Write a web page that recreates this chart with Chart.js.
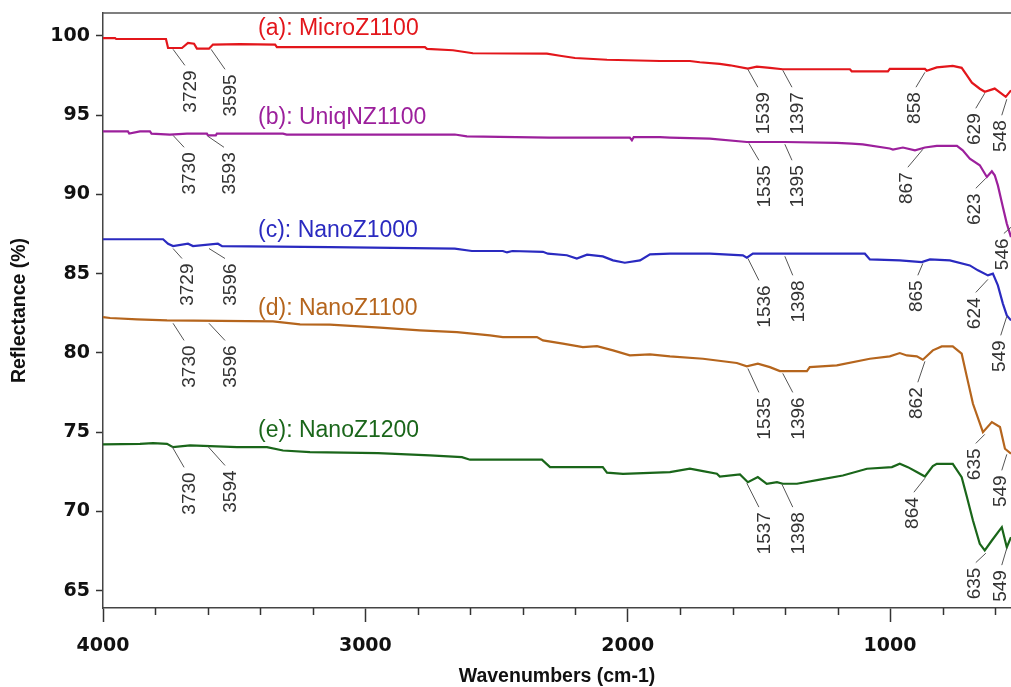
<!DOCTYPE html>
<html>
<head>
<meta charset="utf-8">
<script src="https://cdn.jsdelivr.net/npm/chart.js@4.4.1/dist/chart.umd.min.js"></script>
<style>
  html, body { margin: 0; padding: 0; background: #fff; }
  #wrap { width: 1011px; height: 687px; position: relative; }
</style>
</head>
<body>
<div id="wrap"><canvas id="ftir"></canvas></div>
<script>
// spectra: wavenumber (cm-1) and reflectance (%)
const microZ1100Wn = [4000,3954,3950,3760,3752,3699,3676,3653,3642,3596,3581,3478,3344,3337,2773,2765,2666,2590,2308,2258,2201,2079,1877,1763,1725,1649,1610,1542,1508,1458,1409,1153,1146,1008,1001,867,860,822,761,727,707,688,658,639,601,559,539];
const microZ1100R = [99.87,99.87,99.81,99.81,99.24,99.24,99.56,99.51,99.20,99.20,99.46,99.49,99.46,99.30,99.30,99.19,99.10,98.91,98.89,98.75,98.61,98.50,98.42,98.42,98.34,98.24,98.15,97.94,98.06,97.99,97.90,97.90,97.77,97.77,97.92,97.92,97.80,98.02,98.11,97.99,97.52,97.05,96.67,96.48,96.68,96.16,96.57];

const uniqNZ1100Wn = [4000,3905,3900,3859,3821,3815,3745,3680,3604,3600,3570,3566,3314,3300,2659,2613,2300,1992,1984,1977,1877,1839,1687,1546,1401,1203,1146,1104,1001,989,951,905,867,822,745,723,696,658,631,612,601,589,570,555,539];
const uniqNZ1100R = [93.98,93.98,93.84,93.98,93.98,93.84,93.78,93.84,93.84,93.73,93.73,93.84,93.84,93.78,93.78,93.67,93.59,93.59,93.42,93.62,93.62,93.59,93.52,93.31,93.31,93.25,93.21,93.16,92.90,92.83,92.96,92.78,92.96,93.06,93.06,92.78,92.26,91.84,91.10,91.46,91.21,90.57,89.20,88.16,87.31];

const nanoZ1000Wn = [4000,3771,3752,3733,3676,3657,3562,3546,3135,2659,2594,2476,2460,2440,2323,2304,2232,2194,2155,2095,2056,2011,1953,1915,1839,1687,1561,1546,1523,1096,1077,963,879,848,772,696,665,627,608,589,570,555,539];
const nanoZ1000R = [87.17,87.17,86.89,86.74,86.89,86.74,86.89,86.74,86.68,86.58,86.43,86.43,86.34,86.43,86.38,86.26,86.16,85.95,86.20,86.09,85.84,85.69,85.84,86.22,86.26,86.26,86.16,86.01,86.26,86.26,85.90,85.84,85.73,85.90,85.84,85.52,85.21,84.89,85.00,84.26,83.11,82.37,82.05];

const nanoZ1100Wn = [4000,3973,3870,3756,3352,3249,3135,2944,2792,2651,2525,2476,2346,2323,2247,2171,2117,2056,1992,1915,1839,1713,1584,1546,1504,1458,1420,1317,1306,1203,1077,1001,963,936,898,875,837,803,761,727,707,684,646,612,581,562,539];
const nanoZ1100R = [82.26,82.20,82.11,82.05,81.99,81.80,81.78,81.59,81.42,81.31,81.10,81.00,81.00,80.79,80.58,80.37,80.43,80.16,79.84,79.90,79.78,79.63,79.36,79.15,79.32,79.10,78.85,78.85,79.10,79.21,79.63,79.78,79.99,79.84,79.78,79.57,80.16,80.41,80.41,79.95,78.47,76.79,75.00,75.63,75.32,73.95,73.64];

const nanoZ1200Wn = [4000,3859,3809,3756,3733,3668,3566,3489,3375,3314,3211,2952,2754,2632,2601,2327,2296,2095,2079,2018,1839,1763,1713,1660,1649,1572,1542,1504,1470,1431,1409,1355,1268,1180,1088,993,963,932,898,867,837,822,761,727,707,684,658,639,612,574,555,539];
const nanoZ1200R = [74.22,74.26,74.30,74.26,74.05,74.16,74.10,74.05,74.05,73.84,73.74,73.67,73.53,73.42,73.26,73.26,72.79,72.79,72.44,72.37,72.48,72.69,72.54,72.37,72.20,72.33,71.84,72.16,71.74,71.84,71.74,71.74,72.00,72.26,72.69,72.79,73.00,72.79,72.48,72.20,72.85,73.00,73.00,72.16,70.90,69.42,67.95,67.53,68.16,69.00,67.74,68.37];

const seriesNames = ['(a): MicroZ1100', '(b): UniqNZ1100', '(c): NanoZ1000', '(d): NanoZ1100', '(e): NanoZ1200'];
const seriesColors = ['#e3161b', '#9c209c', '#2a2ac0', '#b5651d', '#1a661a'];

// where each sample name sits (wavenumber of its left end, reflectance of its middle)
const nameWn = 3409;
const nameR = [100.49, 94.87, 87.73, 82.81, 75.11];

// peak tags: [text, wn on curve, R on curve, wn of tag, R of tag top]
const peaksA = [['3729',3733,99.22,3665,97.83],['3595',3588,99.22,3512,97.58],['1539',1542,97.96,1481,96.45],['1397',1409,97.90,1351,96.45],['858',867,97.77,905,96.45],['629',639,96.45,677,95.12],['548',555,96.07,578,94.68]];
const peaksB = [['3730',3733,93.79,3668,92.66],['3593',3600,93.73,3516,92.66],['1535',1538,93.29,1477,91.84],['1395',1401,93.23,1351,91.84],['867',875,92.91,936,91.40],['623',635,91.08,677,90.07],['546',539,87.99,570,87.22]];
const peaksC = [['3729',3733,86.65,3676,85.64],['3596',3596,86.65,3512,85.64],['1536',1542,86.03,1477,84.26],['1398',1401,86.16,1348,84.58],['865',875,85.71,898,84.58],['624',627,84.70,677,83.50],['549',555,82.37,582,80.79]];
const peaksD = [['3730',3733,81.93,3668,80.47],['3596',3596,81.93,3512,80.47],['1535',1542,79.08,1477,77.19],['1396',1409,78.77,1348,77.19],['862',867,79.53,898,77.83],['635',639,74.92,677,73.97],['549',555,73.66,578,72.27]];
const peaksE = [['3730',3737,74.16,3668,72.46],['3594',3600,74.16,3512,72.58],['1537',1546,71.84,1477,69.95],['1398',1412,71.77,1348,69.95],['864',867,72.15,913,70.89],['635',635,67.42,677,66.45],['549',555,67.74,578,66.29]];

const xTicks = [4000,3800,3600,3400,3200,3000,2800,2600,2400,2200,2000,1800,1600,1400,1200,1000,800,600];
const yTicks = [65,70,75,80,85,90,95,100];

const pairs = (wn, r) => wn.map((v, i) => ({ x: v, y: r[i] }));
const spectra = [
  pairs(microZ1100Wn, microZ1100R),
  pairs(uniqNZ1100Wn, uniqNZ1100R),
  pairs(nanoZ1000Wn, nanoZ1000R),
  pairs(nanoZ1100Wn, nanoZ1100R),
  pairs(nanoZ1200Wn, nanoZ1200R)
];
const allPeaks = [peaksA, peaksB, peaksC, peaksD, peaksE];

const annotate = {
  id: 'annotate',
  afterDraw(chart) {
    const { ctx, chartArea: a, scales: { x, y } } = chart;
    ctx.save();

    // frame line along the top
    ctx.strokeStyle = '#555';
    ctx.lineWidth = 1.5;
    ctx.beginPath();
    ctx.moveTo(a.left, a.top);
    ctx.lineTo(a.right, a.top);
    ctx.stroke();

    // short minor ticks on the wavenumber axis
    ctx.strokeStyle = '#333';
    xTicks.forEach(v => {
      if (v % 1000 === 0) return;
      const px = Math.round(x.getPixelForValue(v)) + 0.5;
      ctx.beginPath();
      ctx.moveTo(px, a.bottom);
      ctx.lineTo(px, a.bottom + 7);
      ctx.stroke();
    });

    // sample names
    ctx.font = '23px "Liberation Sans", Arial, sans-serif';
    ctx.textAlign = 'left';
    ctx.textBaseline = 'middle';
    seriesNames.forEach((n, i) => {
      ctx.fillStyle = seriesColors[i];
      ctx.fillText(n, x.getPixelForValue(nameWn), y.getPixelForValue(nameR[i]));
    });

    // peak positions with leader lines
    ctx.font = '19px "Liberation Sans", Arial, sans-serif';
    ctx.textAlign = 'right';
    ctx.fillStyle = '#333';
    ctx.strokeStyle = '#555';
    ctx.lineWidth = 1;
    allPeaks.forEach(list => {
      list.forEach(([txt, aw, ar, lw, lr]) => {
        const ax = x.getPixelForValue(aw), ay = y.getPixelForValue(ar);
        const lx = x.getPixelForValue(lw), ly = y.getPixelForValue(lr);
        const ex = lx > ax ? lx - 6 : lx + 1;
        ctx.beginPath();
        ctx.moveTo(ax, ay + 1);
        ctx.lineTo(ex, ly - 5);
        ctx.stroke();
        ctx.save();
        ctx.translate(lx, ly);
        ctx.rotate(-Math.PI / 2);
        ctx.fillText(txt, 0, 0);
        ctx.restore();
      });
    });
    ctx.restore();
  }
};

const tickFont = { family: 'DejaVu Sans', weight: 'bold', size: 19 };
const titleFont = { family: 'Liberation Sans', weight: 'bold', size: 19.5, lineHeight: 1 };

new Chart(document.getElementById('ftir'), {
  type: 'line',
  data: {
    datasets: spectra.map((d, i) => ({
      label: seriesNames[i],
      data: d,
      borderColor: seriesColors[i],
      borderWidth: 2.2,
      pointRadius: 0,
      tension: 0,
      fill: false
    }))
  },
  options: {
    responsive: true,
    maintainAspectRatio: false,
    animation: false,
    layout: { padding: { top: 13, right: 0, bottom: 0, left: 0 } },
    plugins: {
      legend: { display: false },
      tooltip: { enabled: false }
    },
    scales: {
      x: {
        type: 'linear',
        reverse: true,
        min: 539,
        max: 4000,
        afterBuildTicks: s => { s.ticks = xTicks.map(v => ({ value: v })); },
        afterFit: s => { s.height = 79; s.paddingRight = 0; },
        ticks: {
          autoSkip: false,
          maxRotation: 0,
          padding: 13,
          color: '#111',
          font: tickFont,
          callback: v => (v % 1000 === 0 ? String(v) : '')
        },
        grid: {
          drawOnChartArea: false,
          tickLength: 14,
          tickWidth: 1.5,
          tickColor: c => (c.tick && c.tick.value % 1000 === 0 ? '#333' : 'rgba(0,0,0,0)')
        },
        border: { display: true, color: '#444', width: 1.5 },
        title: {
          display: true,
          text: 'Wavenumbers (cm-1)',
          color: '#111',
          font: titleFont,
          padding: { top: 0, bottom: 0.5 }
        }
      },
      y: {
        min: 63.9,
        max: 101.45,
        afterBuildTicks: s => { s.ticks = yTicks.map(v => ({ value: v })); },
        afterFit: s => { s.width = 103; s.paddingTop = 0; s.paddingBottom = 0; },
        ticks: { padding: 6, color: '#111', font: tickFont },
        grid: { drawOnChartArea: false, tickLength: 7, tickWidth: 1.5, tickColor: '#333' },
        border: { display: true, color: '#444', width: 1.5 },
        title: {
          display: true,
          text: 'Reflectance (%)',
          color: '#111',
          font: titleFont,
          padding: { top: 10, bottom: 0 }
        }
      }
    }
  },
  plugins: [annotate]
});
</script>
</body>
</html>
